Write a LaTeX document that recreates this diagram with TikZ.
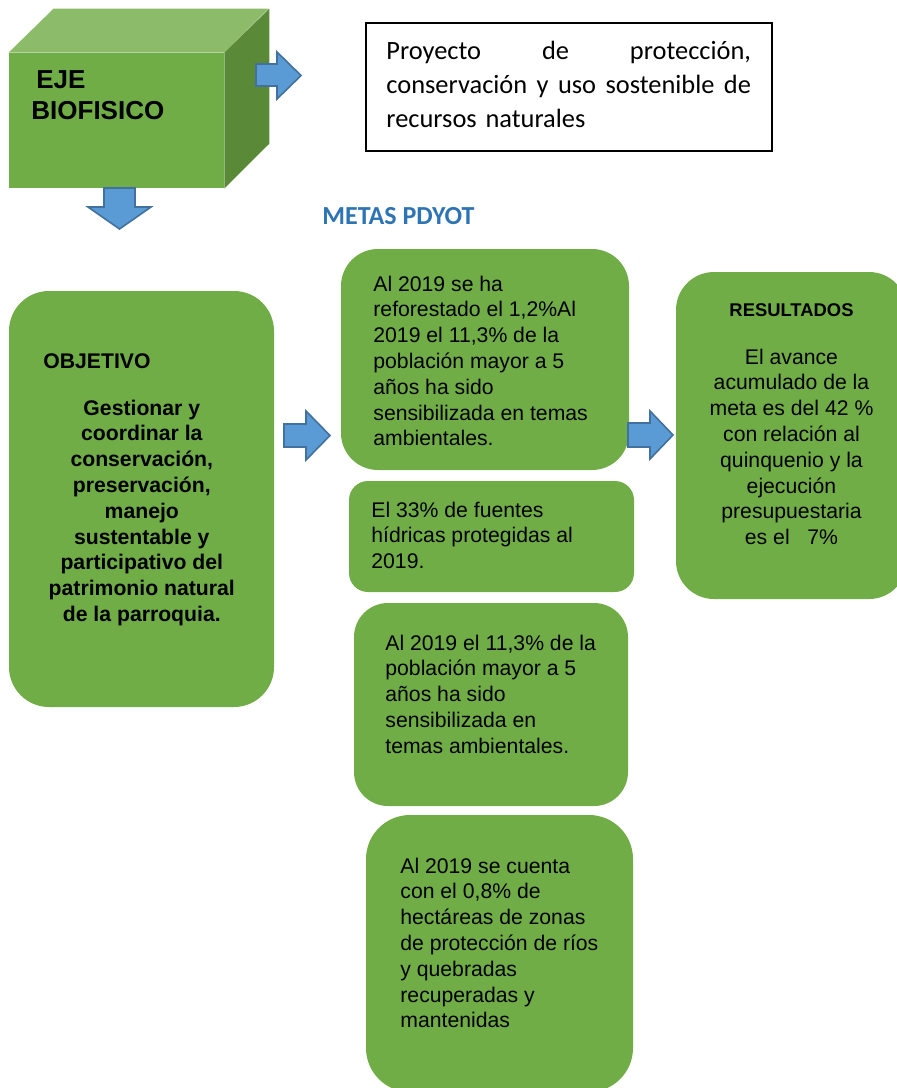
\documentclass[tikz,border=0pt]{standalone}
\usepackage{fontspec}
\setmainfont{Liberation Sans}
\newfontfamily\calibri{Carlito}

\definecolor{boxgreen}{HTML}{70AD47}
\definecolor{topgreen}{HTML}{8CBC69}
\definecolor{sidegreen}{HTML}{5A8A37}
\definecolor{arrowblue}{HTML}{5B9BD5}
\definecolor{arrowline}{HTML}{41719C}
\definecolor{titleblue}{HTML}{2E74B5}

\begin{document}
\begin{tikzpicture}[x=0.5pt, y=-0.5pt,
  greenbox/.style={fill=boxgreen, draw=none, inner sep=0pt},
  boxtext/.style={inner sep=0pt, anchor=base west, align=left, font=\fontsize{10.6}{12.9}\selectfont},
  midtext/.style={inner sep=0pt, anchor=base, align=center, font=\fontsize{10.6}{12.9}\selectfont},
  blockarrow/.style={fill=arrowblue, draw=arrowline, line width=0.8pt, line join=miter}]
  \useasboundingbox (0,0) rectangle (897,1088);
  \clip (0,0) rectangle (897,1088);

  \node[fill=boxgreen, inner sep=0pt, minimum width=107.5pt, minimum height=67.5pt] (eje) at (116.5,120.5) {};
  \fill[topgreen] (eje.north west) -- ++(45,-44) -- ++(215,0) -- (eje.north east) -- cycle;
  \fill[sidegreen] (eje.north east) -- ++(45,-44) -- ++(0,135) -- (eje.south east) -- cycle;
  \node[inner sep=0pt, anchor=base west, align=left, font=\bfseries\fontsize{13}{15.5}\selectfont] (ejetxt) at (31,119) {\hspace*{2.5pt}EJE\\BIOFISICO};

  \filldraw[blockarrow] (256,64) -- (277,64) -- (277,52) -- (301,75.5) -- (277,99) -- (277,86) -- (256,86) -- cycle;
  \filldraw[blockarrow] (104,188) -- (135,188) -- (135,207) -- (151,207) -- (119.5,229) -- (88,207) -- (104,207) -- cycle;

  \node[draw, line width=0.6pt, inner sep=0pt, minimum width=203pt, minimum height=64pt] (proj) at (569,87) {};
  \node[inner sep=0pt, anchor=base west, text width=182.3pt, align=left, font=\calibri\fontsize{13.2}{17}\selectfont] (projtxt) at (386,59.3)
    {\makebox[182.3pt][s]{Proyecto\hfill de\hfill protección,}\\
     \makebox[182.3pt][s]{conservación\hfill y\hfill uso\hfill sostenible\hfill de}\\
     recursos naturales};

  \node[inner sep=0pt, anchor=base west, text=titleblue, font=\calibri\bfseries\fontsize{13}{15}\selectfont] (metas) at (322,224) {METAS PDYOT};

  \node[greenbox, minimum width=132.5pt, minimum height=208pt, rounded corners=20pt] (obj) at (141.5,499) {};
  \node[boxtext, font=\bfseries\fontsize{10.6}{12.9}\selectfont] (objtit) at (43,368) {OBJETIVO};
  \node[midtext, font=\bfseries\fontsize{10.6}{12.9}\selectfont] (objtxt) at (141.8,621.4)
    {Gestionar y\\coordinar la\\conservación,\\preservación,\\manejo\\sustentable y\\participativo del\\patrimonio natural\\de la parroquia.};

  \filldraw[blockarrow] (284,424) -- (306,424) -- (306,411) -- (330,435.5) -- (306,460) -- (306,447) -- (284,447) -- cycle;

  \node[greenbox, minimum width=144pt, minimum height=110.5pt, rounded corners=18.5pt] (m1) at (485,359.5) {};
  \node[boxtext] (m1txt) at (373,445.8)
    {Al 2019 se ha\\reforestado el 1,2\%Al\\2019 el 11,3\% de la\\población mayor a 5\\años ha sido\\sensibilizada en temas\\ambientales.};

  \node[greenbox, minimum width=142.5pt, minimum height=55.5pt, rounded corners=9.5pt] (m2) at (491.5,536.5) {};
  \node[boxtext] (m2txt) at (371,568.6) {El 33\% de fuentes\\hídricas protegidas al\\2019.};

  \node[greenbox, minimum width=137pt, minimum height=101.5pt, rounded corners=17pt] (m3) at (491,704.5) {};
  \node[boxtext] (m3txt) at (385,753.2)
    {Al 2019 el 11,3\% de la\\población mayor a 5\\años ha sido\\sensibilizada en\\temas ambientales.};

  \node[greenbox, minimum width=133.5pt, minimum height=138.5pt, rounded corners=22pt] (m4) at (499.5,953.5) {};
  \node[boxtext] (m4txt) at (400,1027.8)
    {Al 2019 se cuenta\\con el 0,8\% de\\hectáreas de zonas\\de protección de ríos\\y quebradas\\recuperadas y\\mantenidas};

  \filldraw[blockarrow] (628,423) -- (650,423) -- (650,411) -- (673,435) -- (650,459) -- (650,447) -- (628,447) -- cycle;

  \node[greenbox, minimum width=115.5pt, minimum height=163.5pt, rounded corners=19pt] (res) at (791.5,435.5) {};
  \node[inner sep=0pt, anchor=base, font=\bfseries\fontsize{9.2}{11}\selectfont] (restit) at (791.5,316.7) {RESULTADOS};
  \node[midtext] (restxt) at (791.5,544.6)
    {El avance\\acumulado de la\\meta es del 42 \%\\con relación al\\quinquenio y la\\ejecución\\presupuestaria\\es el\ \ \ 7\%};
\end{tikzpicture}
\end{document}
